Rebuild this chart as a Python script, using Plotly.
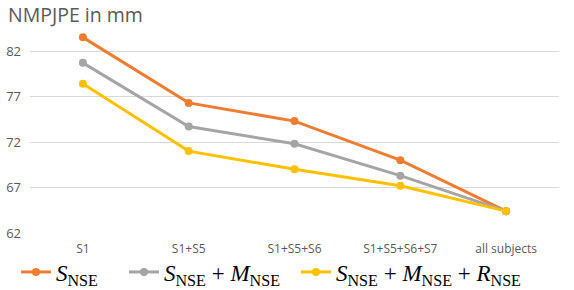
import plotly.graph_objects as go

categories = ["S1", "S1+S5", "S1+S5+S6", "S1+S5+S6+S7", "all subjects"]
s_nse = [83.5, 76.3, 74.3, 70.0, 64.4]
s_m_nse = [80.7, 73.7, 71.8, 68.3, 64.4]
s_m_r_nse = [78.4, 71.0, 69.0, 67.2, 64.4]
y_ticks = [62, 67, 72, 77, 82]

names = [
    "<i>S</i><sub>NSE</sub>",
    "<i>S</i><sub>NSE</sub> + <i>M</i><sub>NSE</sub>",
    "<i>S</i><sub>NSE</sub> + <i>M</i><sub>NSE</sub> + <i>R</i><sub>NSE</sub>",
]
colors = ["#ED7D31", "#A5A5A5", "#FFC000"]
legend_ids = ["legend", "legend2", "legend3"]
legend_x = [16 / 574, 124 / 574, 296 / 574]

fig = go.Figure()
for vals, name, c, lid in zip([s_nse, s_m_nse, s_m_r_nse], names, colors, legend_ids):
    fig.add_trace(go.Scatter(
        x=categories, y=vals, name=name, mode="lines+markers",
        line=dict(color=c, width=3), marker=dict(color=c, size=8),
        legend=lid,
    ))

leg_common = dict(orientation="h", xref="container", yref="container",
                  y=18 / 290, xanchor="left", yanchor="middle",
                  font=dict(family="Liberation Serif", size=23, color="black"),
                  itemwidth=30, bgcolor="rgba(0,0,0,0)")

fig.update_layout(
    width=574, height=290,
    margin=dict(l=30, r=15, t=31, b=57, autoexpand=False),
    plot_bgcolor="white", paper_bgcolor="white",
    font=dict(family="Open Sans", color="#595959", size=12),
    title=dict(text="NMPJPE in mm", x=8 / 574, xanchor="left", y=1 - 15 / 290, yanchor="middle",
               xref="container", yref="container",
               font=dict(family="Open Sans", size=19.5, color="#595959")),
    xaxis=dict(range=[-0.5, 4.5], showgrid=False, showline=False, zeroline=False, ticks="",
               ticklabelstandoff=7,
               tickfont=dict(size=12, color="#595959")),
    yaxis=dict(range=[62, 84.2], tickvals=y_ticks, showgrid=True, gridcolor="#D9D9D9",
               gridwidth=1, zeroline=False, showline=False, ticks="",
               ticklabelstandoff=8,
               tickfont=dict(size=13, color="#595959")),
    legend=dict(x=legend_x[0], **leg_common),
    legend2=dict(x=legend_x[1], **leg_common),
    legend3=dict(x=legend_x[2], **leg_common),
    showlegend=True,
)

fig.write_html(
    "out.html",
    config={"displayModeBar": False},
    post_script="document.body.style.margin='0';document.body.style.overflow='hidden';",
)
